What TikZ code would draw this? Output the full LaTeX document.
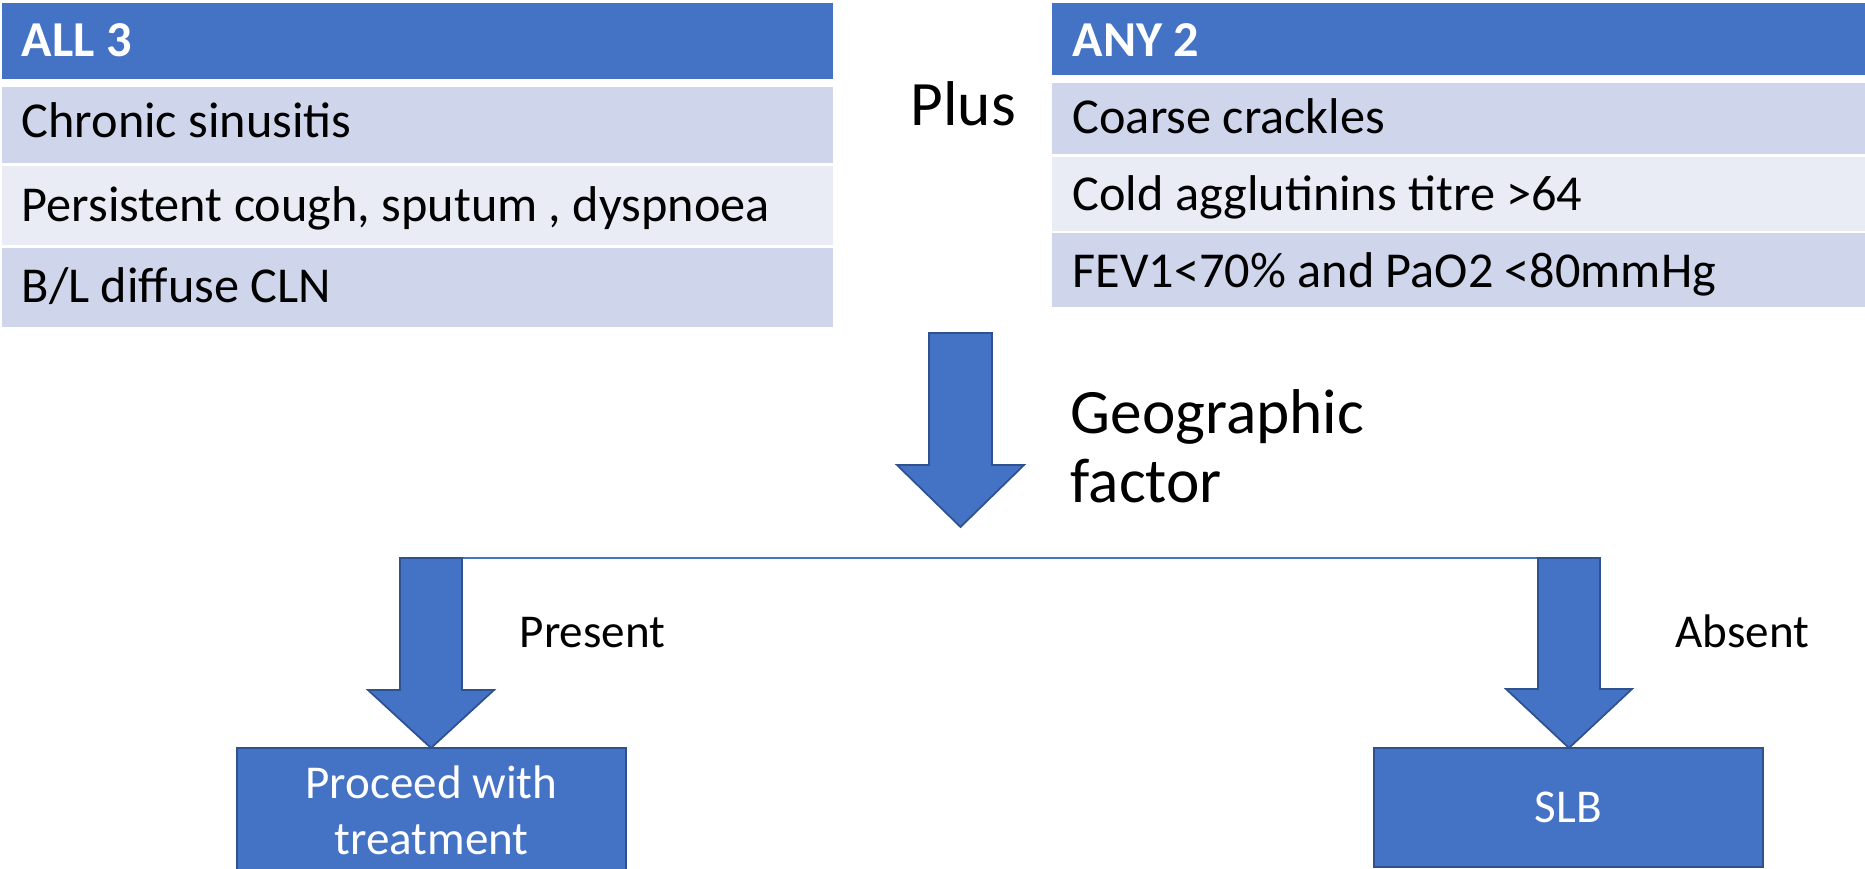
\documentclass[tikz,border=0pt]{standalone}
\usepackage{fontspec}
\setmainfont{Carlito}
\usepackage{xcolor}
\usepackage{tikz}
\usetikzlibrary{positioning,calc}

\definecolor{hdrblue}{HTML}{4472C4}
\definecolor{edgeblue}{HTML}{2F528F}
\definecolor{rowdark}{HTML}{CFD5EA}
\definecolor{rowlight}{HTML}{E9EBF5}

\begin{document}
\begin{tikzpicture}[
  celltext/.style={anchor=base west, inner sep=0pt, font=\fontsize{14.3}{17}\selectfont},
  headtext/.style={celltext, text=white, font=\fontsize{14.3}{17}\selectfont\bfseries},
  bigtext/.style={anchor=base west, inner sep=0pt, align=left, font=\fontsize{18}{19.6}\selectfont},
  branchtext/.style={anchor=base west, inner sep=0pt, font=\fontsize{13.4}{16}\selectfont},
  blockarrow/.style={fill=hdrblue, draw=edgeblue, line width=0.5pt},
  outbox/.style={rectangle, fill=hdrblue, draw=edgeblue, line width=0.5pt, text=white,
    minimum width=3.89cm, inner sep=0pt, align=center, font=\fontsize{13.4}{15.9}\selectfont}
]
  \useasboundingbox (0,0) rectangle (18.65,8.68);

  % Left table: all 3
  \fill[hdrblue] (0.02,8.65) rectangle (8.33,7.89);
  \fill[rowdark] (0.02,7.81) rectangle (8.33,7.05);
  \fill[rowlight] (0.02,7.02) rectangle (8.33,6.23);
  \fill[rowdark] (0.02,6.20) rectangle (8.33,5.41);
  \node[headtext] (all3) at (0.21,8.11) {ALL 3};
  \node[celltext] (sinus) at (0.21,7.30) {Chronic sinusitis};
  \node[celltext] (cough) at (0.21,6.47) {Persistent cough, sputum , dyspnoea};
  \node[celltext] (cln) at (0.21,5.66) {B/L diffuse CLN};

  \node[bigtext] (plus) at (9.10,7.43) {Plus};

  % Right table: any 2
  \fill[hdrblue] (10.52,8.65) rectangle (18.65,7.93);
  \fill[rowdark] (10.52,7.85) rectangle (18.65,7.14);
  \fill[rowlight] (10.52,7.11) rectangle (18.65,6.37);
  \fill[rowdark] (10.52,6.35) rectangle (18.65,5.61);
  \node[headtext] (any2) at (10.72,8.11) {ANY 2};
  \node[celltext] (crackles) at (10.72,7.35) {Coarse crackles};
  \node[celltext] (agglut) at (10.72,6.58) {Cold agglutinins titre >64};
  \node[celltext] (fev) at (10.72,5.81) {FEV1<70\% and PaO2 <80mmHg};

  % Main arrow
  \draw[blockarrow] (9.29,5.35) -- (9.92,5.35) -- (9.92,4.03) -- (10.24,4.03)
    -- (9.605,3.41) -- (8.97,4.03) -- (9.29,4.03) -- cycle;
  \node[bigtext] (geo) at (10.70,3.66) {Geographic\\factor};

  % Split line
  \coordinate (lshaft) at (4.62,3.10);
  \coordinate (rshaft) at (15.38,3.10);
  \draw[hdrblue, line width=0.5pt] (lshaft) -- (rshaft);

  % Branch arrows
  \draw[blockarrow] (4.00,3.10) -- (lshaft) -- (4.62,1.78) -- (4.94,1.78)
    -- (4.31,1.20) -- (3.68,1.78) -- (4.00,1.78) -- cycle;
  \draw[blockarrow] (rshaft) -- (16.00,3.10) -- (16.00,1.79) -- (16.32,1.79)
    -- (15.69,1.20) -- (15.06,1.79) -- (15.38,1.79) -- cycle;
  \node[branchtext] (present) at (5.19,2.21) {Present};
  \node[branchtext] (absent) at (16.75,2.21) {Absent};

  % Outcomes
  \node[outbox, minimum height=1.25cm] (proceed) at (4.315,0.575) {Proceed with\\treatment};
  \node[outbox, minimum height=1.19cm] (slb) at (15.685,0.605) {SLB};
\end{tikzpicture}
\end{document}
